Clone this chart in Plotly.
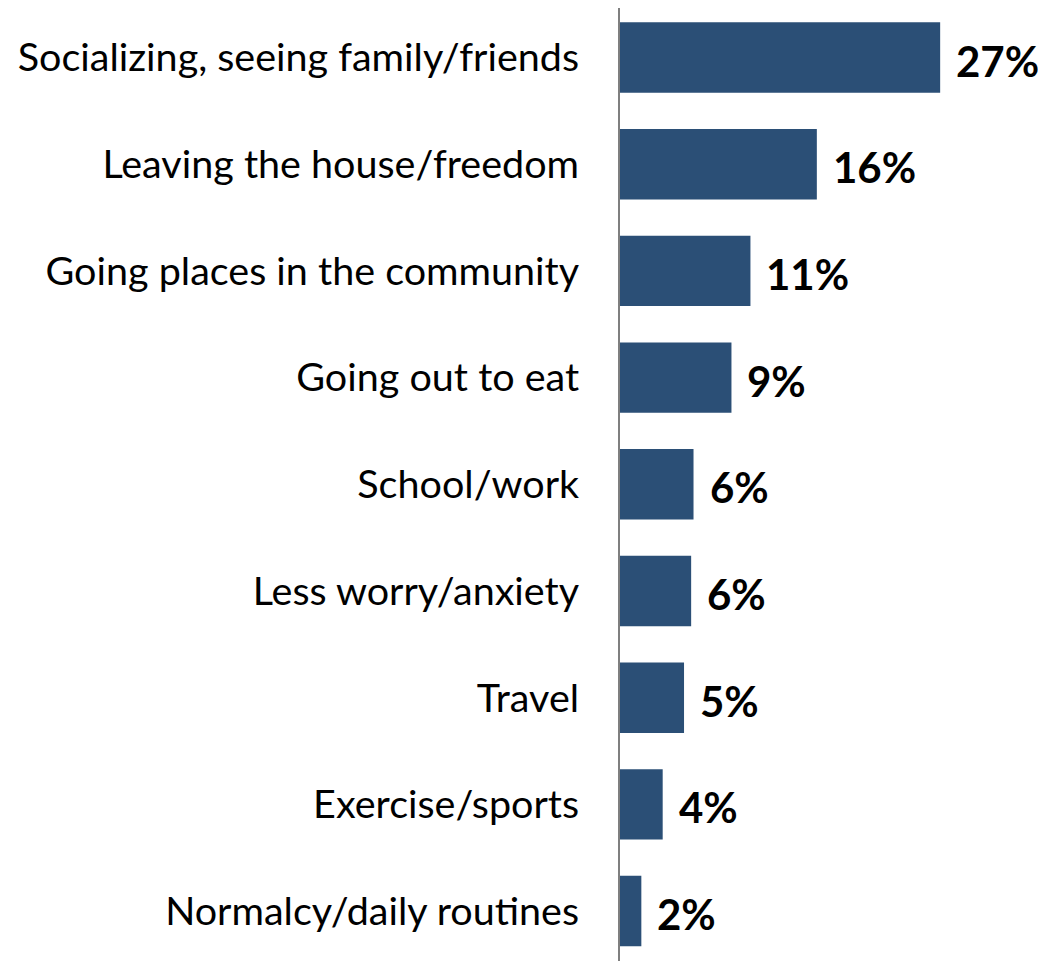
import plotly.graph_objects as go

categories = [
    "Socializing, seeing family/friends",
    "Leaving the house/freedom",
    "Going places in the community",
    "Going out to eat",
    "School/work",
    "Less worry/anxiety",
    "Travel",
    "Exercise/sports",
    "Normalcy/daily routines",
]
values = [27.0, 16.6, 11.0, 9.4, 6.2, 6.0, 5.4, 3.6, 1.8]
value_labels = ["27%", "16%", "11%", "9%", "6%", "6%", "5%", "4%", "2%"]

FONT = "Lato"
BAR_COLOR = "#2B4F76"

fig = go.Figure(
    go.Bar(
        x=values,
        y=categories,
        orientation="h",
        marker=dict(color=BAR_COLOR, line=dict(width=0)),
        width=0.66,
        hoverinfo="skip",
    )
)

for cat, v, lab in zip(categories, values, value_labels):
    fig.add_annotation(
        x=v, y=cat, text="<b>" + lab + "</b>", showarrow=False,
        xanchor="left", yanchor="middle", xshift=14, yshift=-3,
        font=dict(family=FONT, size=42, color="#000000"),
    )

fig.update_layout(
    width=1046, height=961,
    margin=dict(l=612, r=0, t=0, b=0),
    paper_bgcolor="white", plot_bgcolor="white",
    showlegend=False,
    font=dict(family=FONT, color="#000000"),
)
fig.update_xaxes(range=[0, 36.6], visible=False, showgrid=False, zeroline=False)
fig.update_yaxes(
    type="category", categoryorder="array", categoryarray=categories,
    range=[8.543, -0.464],
    showline=True, linecolor="#7F7F7F", linewidth=2,
    ticks="", showgrid=False, zeroline=False,
    ticklabelstandoff=31,
    tickfont=dict(family=FONT, size=39.5, color="#000000"),
)

fig.write_html("out.html")
